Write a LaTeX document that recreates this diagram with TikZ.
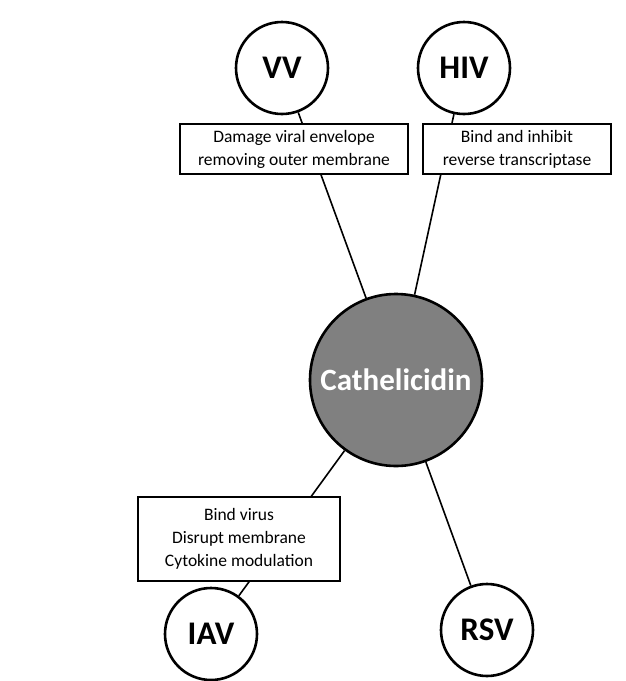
\documentclass[tikz,border=0pt]{standalone}
\usepackage{fontspec}
\setmainfont{Carlito}
\usetikzlibrary{backgrounds}

\begin{document}
\begin{tikzpicture}[x=1pt, y=-1pt]
	\tikzstyle{virus} = [draw, line width=2.6pt, circle, fill=white, minimum size=92pt, inner sep=0pt, font=\fontsize{33}{33}\selectfont\bfseries]
	\tikzstyle{effect} = [draw, line width=1.2pt, rectangle, fill=white, align=center, inner sep=0pt, font=\fontsize{17.5}{23}\selectfont]
	\useasboundingbox (0,0) rectangle (626,681);
	\node[draw, line width=2.6pt, circle, fill=black!50, minimum size=172pt, inner sep=0pt, text=white, font=\fontsize{31}{31}\selectfont\bfseries] (cath) at (396,380) {Cathelicidin};
	\node[virus] (vv) at (282,68) {VV}; \node[virus] (hiv) at (464,68) {HIV}; \node[virus] (iav) at (211,634) {IAV}; \node[virus] (rsv) at (487,630) {RSV};
	\node[effect, minimum width=228pt, minimum height=50pt] (vvfx) at (294,149) {Damage viral envelope\\removing outer membrane}; \node[effect, minimum width=188pt, minimum height=50pt] (hivfx) at (517,149) {Bind and inhibit\\reverse transcriptase}; \node[effect, minimum width=202pt, minimum height=84pt] (iavfx) at (239,539) {Bind virus\\Disrupt membrane\\Cytokine modulation};

	\begin{scope}[on background layer]
	\draw[line width=1.6pt] (vv) -- (cath); \draw[line width=1.6pt] (hiv) -- (cath); \draw[line width=1.6pt] (iav) -- (cath); \draw[line width=1.6pt] (rsv) -- (cath);
	\end{scope}
\end{tikzpicture}
\end{document}
